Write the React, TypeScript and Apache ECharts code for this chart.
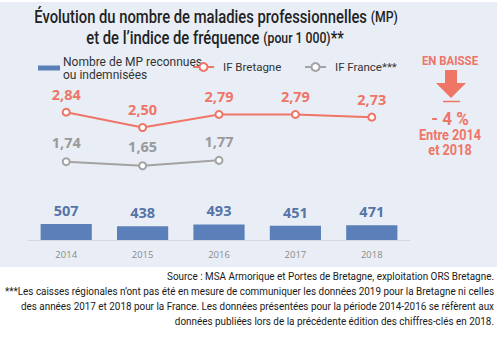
import React, { useEffect, useRef } from "react";
import * as echarts from "echarts";

const years = ["2014", "2015", "2016", "2017", "2018"];
const mpCounts = [507, 438, 493, 451, 471];
const ifBretagne = [2.84, 2.5, 2.79, 2.79, 2.73];
const ifFrance: (number | null)[] = [1.74, 1.65, 1.77, null, null];

const titleLine1 = "Évolution du nombre de maladies professionnelles";
const titleLine2 = "et de l’indice de fréquence";
const footLines = [
  "Source : MSA Armorique et Portes de Bretagne, exploitation ORS Bretagne.",
  "***Les caisses régionales n’ont pas été en mesure de communiquer les données 2019 pour la Bretagne ni celles",
  "des années 2017 et 2018 pour la France. Les données présentées pour la période 2014-2016 se réfèrent aux",
  "données publiées lors de la précédente édition des chiffres-clés en 2018.",
];

const COND = 'Roboto, "Noto Sans", sans-serif';
const NUM = '"Open Sans", "Noto Sans", sans-serif';
const SALMON = "#ef7567";
const GREY = "#a3a3a3";
const BLUE = "#5b7fb8";

const fmt = (v: number) => v.toFixed(2).replace(".", ",");

let arrowRegistered = false;

export default function App() {
  const ref = useRef<HTMLDivElement>(null);
  useEffect(() => {
    document.body.style.margin = "0";
    if (!arrowRegistered) {
      echarts.graphic.registerShape(
        "downArrow",
        (echarts.graphic as any).extendPath("M9 0 H21 V13 H30 L15 28 L0 13 H9 Z", {})
      );
      arrowRegistered = true;
    }
    const chart = echarts.init(ref.current!, null, { renderer: "svg" });
    const sideText = (text: string, y: number, size: number, sx: number) => ({
      type: "text",
      x: 450,
      y,
      scaleX: sx,
      style: {
        text,
        align: "center",
        verticalAlign: "middle",
        fontFamily: COND,
        fontSize: size,
        fontWeight: "bold",
        fill: SALMON,
      },
    });
    const option: any = {
      animation: false,
      backgroundColor: "#ffffff",
      grid: { left: 28, right: 94, top: 60, bottom: 98 },
      xAxis: {
        type: "category",
        data: years,
        axisLine: { show: true, lineStyle: { color: "#d3d8df", width: 1 } },
        axisTick: { show: false },
        axisLabel: { color: "#8a8a8a", fontSize: 9.5, fontFamily: NUM, margin: 9 },
      },
      yAxis: [
        { type: "value", min: 0, max: 5700, show: false },
        { type: "value", min: 0, max: 4, show: false },
      ],
      legend: [
        {
          left: 38,
          top: 55,
          padding: 0,
          itemWidth: 22,
          itemHeight: 5,
          itemGap: 0,
          data: [{ name: "Nombre de MP reconnues\nou indemnisées", icon: "rect" }],
          textStyle: { fontFamily: COND, fontSize: 12, color: "#333", lineHeight: 13, padding: [0, 0, 0, -2] },
        },
        {
          left: 192,
          top: 61,
          padding: 0,
          itemWidth: 21,
          itemHeight: 10,
          data: ["IF Bretagne"],
          textStyle: { fontFamily: COND, fontSize: 11.5, color: "#333", padding: [0, 0, 0, 4] },
        },
        {
          left: 304,
          top: 61,
          padding: 0,
          itemWidth: 21,
          itemHeight: 10,
          data: ["IF France***"],
          textStyle: { fontFamily: COND, fontSize: 11.5, color: "#333", padding: [0, 0, 0, 4] },
        },
      ],
      series: [
        {
          name: "Nombre de MP reconnues\nou indemnisées",
          type: "bar",
          yAxisIndex: 0,
          data: mpCounts,
          barWidth: "67%",
          itemStyle: { color: BLUE },
          label: {
            show: true,
            position: "top",
            distance: 6,
            color: "#5574a8",
            fontFamily: NUM,
            fontWeight: "bold",
            fontSize: 14.5,
          },
        },
        {
          name: "IF Bretagne",
          type: "line",
          yAxisIndex: 1,
          data: ifBretagne,
          symbol: "circle",
          symbolSize: 7,
          lineStyle: { color: SALMON, width: 2 },
          itemStyle: { color: "#ffffff", borderColor: SALMON, borderWidth: 2 },
          label: {
            show: true,
            position: "top",
            distance: 6,
            color: SALMON,
            fontFamily: NUM,
            fontWeight: "bold",
            fontSize: 14.5,
            formatter: (p: any) => fmt(p.value),
          },
        },
        {
          name: "IF France***",
          type: "line",
          yAxisIndex: 1,
          data: ifFrance,
          symbol: "circle",
          symbolSize: 7,
          connectNulls: false,
          lineStyle: { color: GREY, width: 2 },
          itemStyle: { color: "#ffffff", borderColor: GREY, borderWidth: 2 },
          label: {
            show: true,
            position: "top",
            distance: 7,
            color: "#999999",
            fontFamily: NUM,
            fontWeight: "bold",
            fontSize: 14.5,
            formatter: (p: any) => fmt(p.value),
          },
        },
      ],
      graphic: [
        {
          type: "rect",
          silent: true,
          z: -10,
          shape: { x: 0, y: 2, width: 497, height: 265 },
          style: { fill: "#e9eef6" },
        },
        {
          type: "text",
          x: 216,
          y: 17,
          scaleX: 0.845,
          style: {
            text: `{a|${titleLine1} }{b|(MP)}`,
            align: "center",
            verticalAlign: "middle",
            rich: {
              a: { fontFamily: COND, fontSize: 17.5, fontWeight: 500, fill: "#222" },
              b: { fontFamily: COND, fontSize: 14.5, fontWeight: 500, fill: "#222" },
            },
          },
        },
        {
          type: "text",
          x: 215,
          y: 38,
          scaleX: 0.845,
          style: {
            text: `{a|${titleLine2} }{b|(pour 1 000)}{a|**}`,
            align: "center",
            verticalAlign: "middle",
            rich: {
              a: { fontFamily: COND, fontSize: 17.5, fontWeight: 500, fill: "#222" },
              b: { fontFamily: COND, fontSize: 14.5, fontWeight: 500, fill: "#222" },
            },
          },
        },
        sideText("EN BAISSE", 61, 13, 0.88),
        {
          type: "downArrow",
          x: 436,
          y: 70,
          z: 5,
          style: { fill: SALMON },
        },
        {
          type: "line",
          z: 5,
          shape: { x1: 443, y1: 101.5, x2: 460, y2: 101.5 },
          style: { stroke: SALMON, lineWidth: 1.5 },
        },
        sideText("- 4 %", 119, 18, 0.95),
        sideText("Entre 2014", 135, 15.5, 0.82),
        sideText("et 2018", 150, 15.5, 0.82),
        ...footLines.map((t, i) => ({
          type: "text",
          x: 494,
          y: [276, 291.5, 306.5, 321.5][i],
          scaleX: 0.9,
          style: {
            text: t,
            align: "right",
            verticalAlign: "middle",
            fontFamily: COND,
            fontSize: 11,
            fill: "#1a1a1a",
          },
        })),
      ],
    };
    chart.setOption(option);
    return () => chart.dispose();
  }, []);
  return <div ref={ref} style={{ width: 504, height: 338 }} />;
}
